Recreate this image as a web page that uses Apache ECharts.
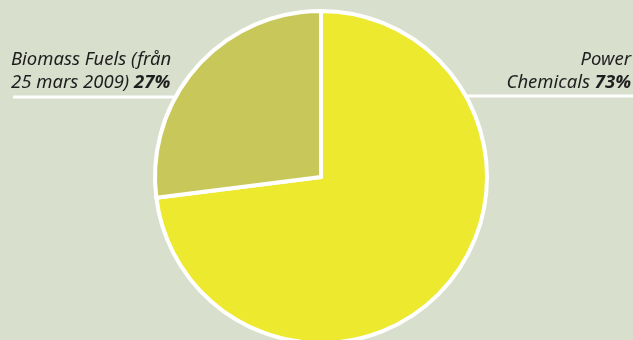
<!DOCTYPE html>
<html>
<head>
<meta charset="utf-8">
<script src="https://cdn.jsdelivr.net/npm/echarts@6/dist/echarts.min.js"></script>
<style>
  html, body { margin: 0; padding: 0; background: #d8dfcd; }
  #main { width: 633px; height: 340px; }
</style>
</head>
<body>
<div id="main"></div>
<script>
const names = ['Power\nChemicals', 'Biomass Fuels (från\n25 mars 2009)'];
const values = [73, 27];
const colors = ['#ede92e', '#c8c85a'];

const chart = echarts.init(document.getElementById('main'));

// label positions (text block + line under it)
const labelPos = [
  { x: 631, y: 71, align: 'right', line: [[466, 96], [633, 96], [633, 96]] },
  { x: 11, y: 71, align: 'left', line: [[177, 97], [13, 97], [13, 97]] }
];

const option = {
  backgroundColor: '#d8dfcd',
  animation: false,
  series: [
    {
      type: 'pie',
      center: [321, 177],
      radius: [0, 166],
      startAngle: 90,
      clockwise: true,
      itemStyle: {
        borderColor: '#ffffff',
        borderWidth: 4
      },
      label: {
        show: true,
        position: 'outside',
        overflow: 'none',
        width: 240,
        fontFamily: 'Noto Sans',
        fontStyle: 'italic',
        fontSize: 18.5,
        lineHeight: 23,
        color: '#1e1e1e',
        formatter: p => {
          const lines = p.name.split('\n');
          return lines[0] + '\n' + lines[1] + ' {b|' + p.value + '%}';
        },
        rich: {
          b: {
            fontFamily: 'Noto Sans',
            fontStyle: 'italic',
            fontWeight: 'bold',
            fontSize: 18.5,
            lineHeight: 23,
            color: '#1e1e1e'
          }
        }
      },
      labelLine: {
        show: true,
        lineStyle: { color: '#ffffff', width: 3 }
      },
      labelLayout: params => {
        const l = labelPos[params.dataIndex];
        return {
          x: l.x,
          y: l.y,
          align: l.align,
          verticalAlign: 'middle',
          labelLinePoints: l.line
        };
      },
      data: names.map((n, i) => ({
        name: n,
        value: values[i],
        itemStyle: { color: colors[i] }
      }))
    }
  ]
};

chart.setOption(option);
</script>
</body>
</html>
